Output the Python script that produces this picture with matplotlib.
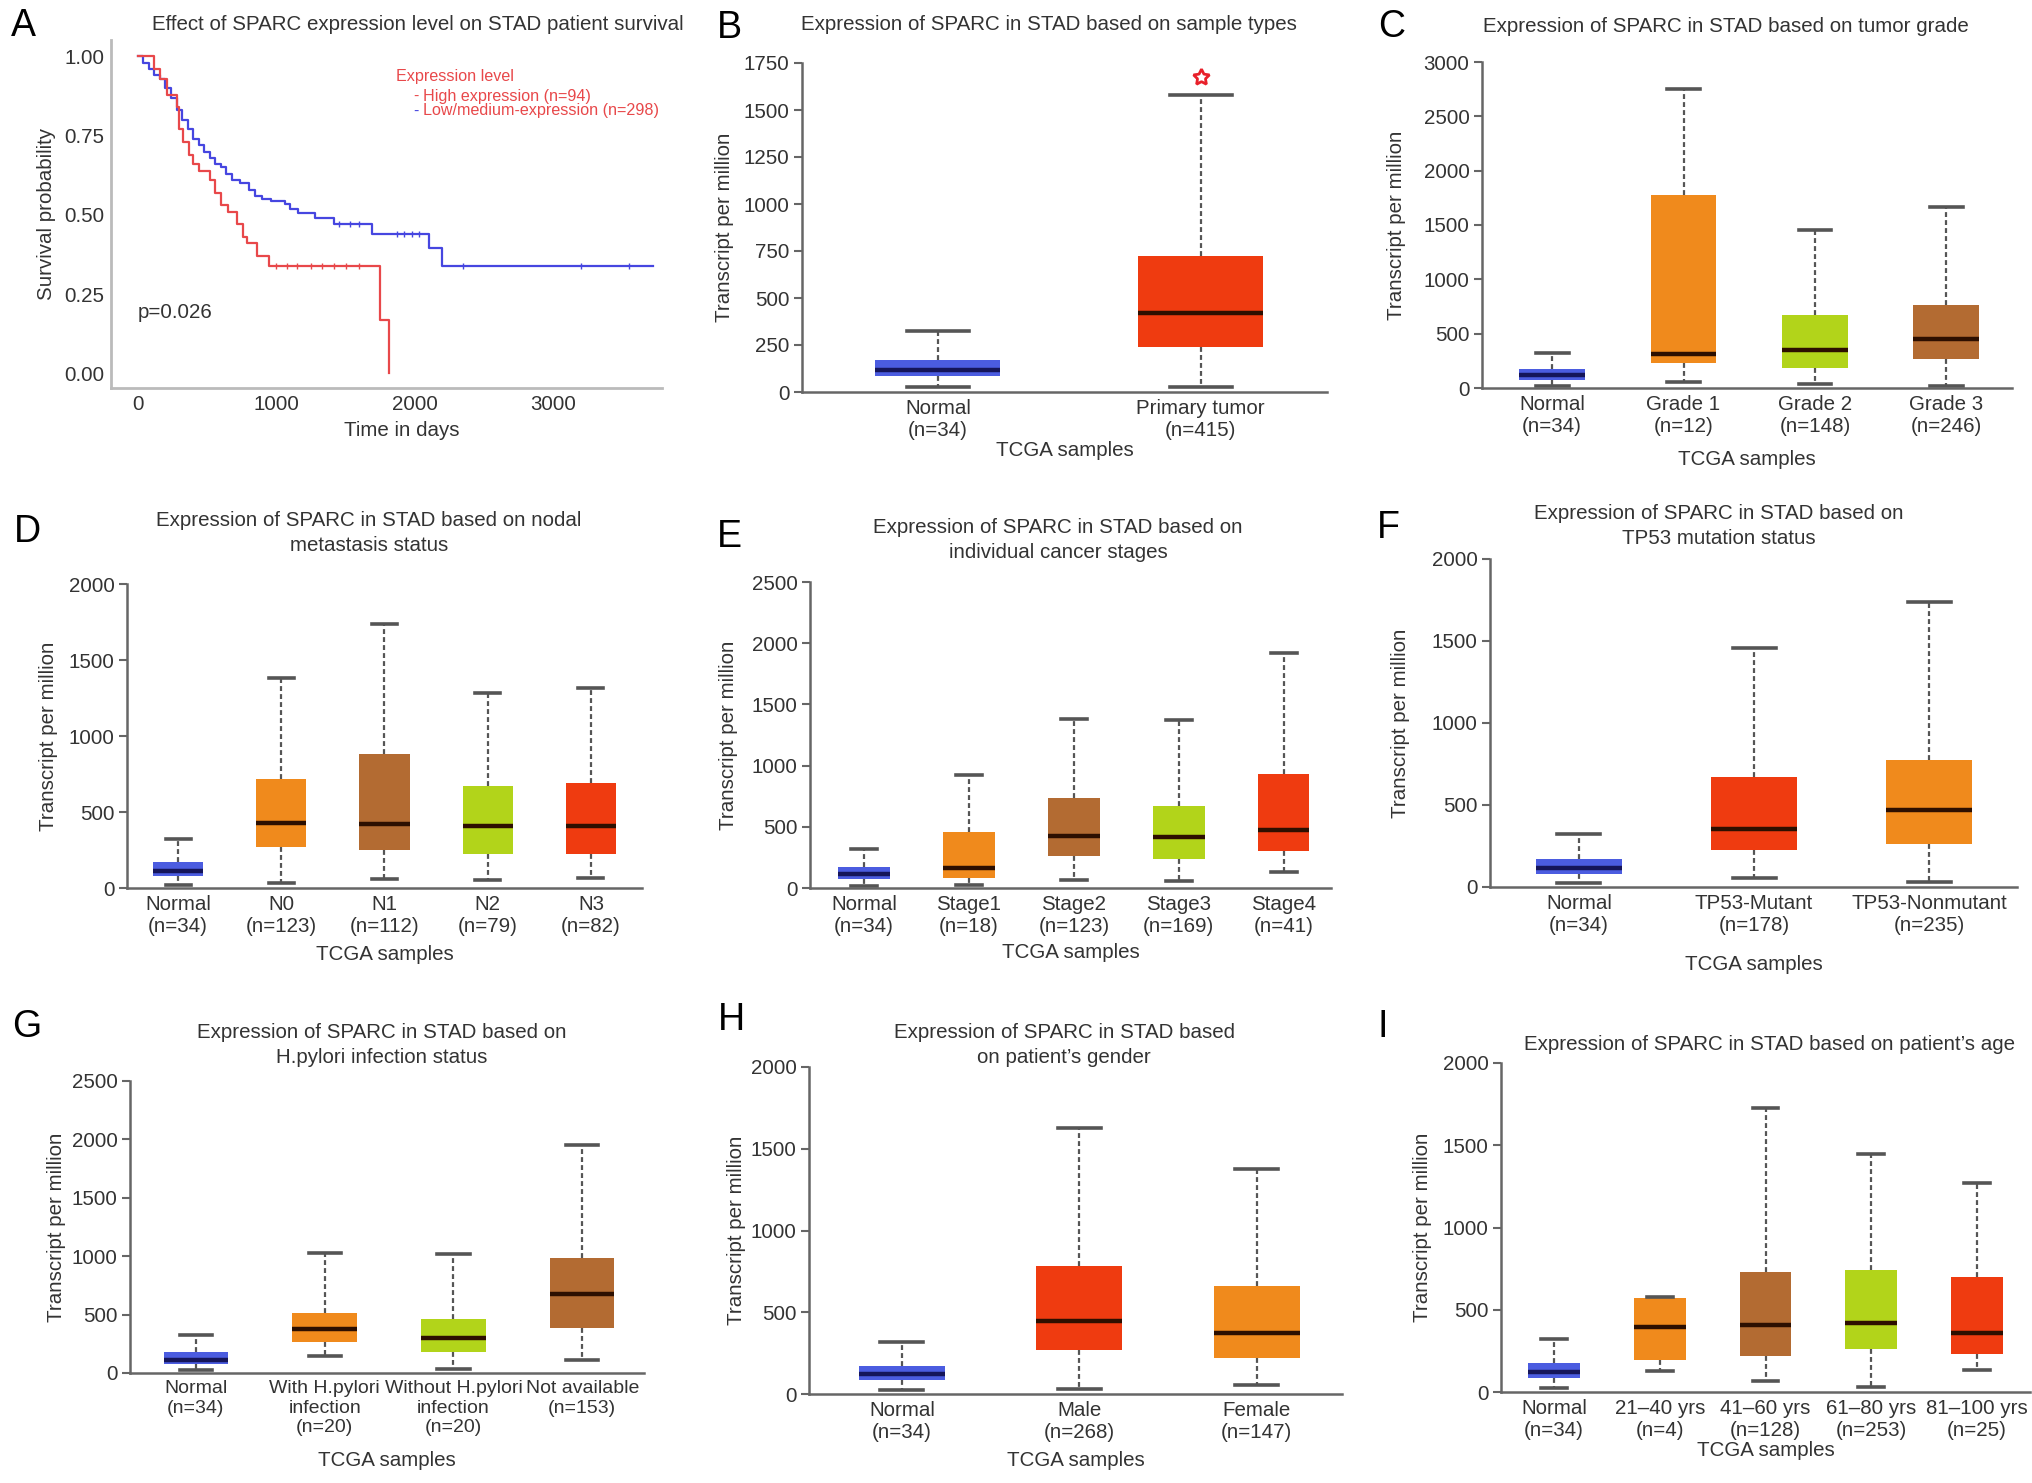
import matplotlib
matplotlib.use('Agg')
import matplotlib.pyplot as plt
import numpy as np

plt.rcParams['font.family'] = ['Liberation Sans', 'DejaVu Sans']

# ---------------- DATA ----------------
# Panel A: Kaplan-Meier steps (days, survival probability)
km_time_high = [0, 120, 160, 210, 280, 300, 330, 370, 400, 440, 520, 560, 600, 650, 720, 760, 790, 860, 950, 1750, 1815]
km_surv_high = [1.0, 0.96, 0.93, 0.88, 0.84, 0.77, 0.73, 0.69, 0.66, 0.64, 0.61, 0.57, 0.53, 0.51, 0.47, 0.43, 0.41, 0.37, 0.34, 0.17, 0.0]
km_censor_high = [1000, 1080, 1150, 1250, 1330, 1420, 1500, 1600]
km_time_low = [0, 40, 80, 120, 160, 200, 240, 280, 320, 360, 400, 440, 480, 520, 560, 600, 640, 680,
               740, 800, 850, 900, 960, 1060, 1100, 1160, 1280, 1420, 1690, 2100, 2200]
km_surv_low = [1.0, 0.98, 0.96, 0.94, 0.93, 0.90, 0.87, 0.83, 0.80, 0.77, 0.74, 0.72, 0.70, 0.68, 0.66, 0.65,
               0.63, 0.61, 0.60, 0.58, 0.56, 0.55, 0.545, 0.535, 0.52, 0.505, 0.49, 0.47, 0.44, 0.395, 0.34]
km_censor_low = [1450, 1530, 1600, 1870, 1920, 1980, 2030, 2350, 3200, 3550]
km_end_low = 3720
km_xticks = [0, 1000, 2000, 3000]
km_yticks = [0.0, 0.25, 0.5, 0.75, 1.0]

# Panel B
B_cats = ['Normal\n(n=34)', 'Primary tumor\n(n=415)']
B_lo = [27, 27]; B_q1 = [84, 240]; B_med = [115, 418]; B_q3 = [172, 723]; B_hi = [323, 1578]
B_star = 1674
# Panel C
C_cats = ['Normal\n(n=34)', 'Grade 1\n(n=12)', 'Grade 2\n(n=148)', 'Grade 3\n(n=246)']
C_lo = [15, 58, 40, 15]; C_q1 = [77, 230, 184, 270]; C_med = [116, 315, 352, 453]
C_q3 = [175, 1776, 674, 762]; C_hi = [321, 2756, 1454, 1669]
# Panel D
D_cats = ['Normal\n(n=34)', 'N0\n(n=123)', 'N1\n(n=112)', 'N2\n(n=79)', 'N3\n(n=82)']
D_lo = [22, 33, 59, 50, 66]; D_q1 = [81, 268, 252, 224, 224]; D_med = [114, 428, 421, 406, 406]
D_q3 = [173, 717, 882, 673, 691]; D_hi = [325, 1382, 1737, 1283, 1316]
# Panel E
E_cats = ['Normal\n(n=34)', 'Stage1\n(n=18)', 'Stage2\n(n=123)', 'Stage3\n(n=169)', 'Stage4\n(n=41)']
E_lo = [19, 27, 62, 54, 128]; E_q1 = [73, 82, 264, 236, 299]; E_med = [114, 163, 421, 413, 476]
E_q3 = [171, 454, 734, 671, 932]; E_hi = [318, 924, 1378, 1372, 1916]
# Panel F
F_cats = ['Normal\n(n=34)', 'TP53-Mutant\n(n=178)', 'TP53-Nonmutant\n(n=235)']
F_lo = [24, 55, 31]; F_q1 = [81, 224, 261]; F_med = [118, 352, 468]; F_q3 = [173, 672, 774]; F_hi = [322, 1456, 1735]
# Panel G
G_cats = ['Normal\n(n=34)', 'With H.pylori\ninfection\n(n=20)', 'Without H.pylori\ninfection\n(n=20)', 'Not available\n(n=153)']
G_lo = [28, 148, 34, 114]; G_q1 = [77, 265, 177, 384]; G_med = [114, 376, 299, 678]
G_q3 = [177, 513, 461, 982]; G_hi = [327, 1031, 1019, 1950]
# Panel H
H_cats = ['Normal\n(n=34)', 'Male\n(n=268)', 'Female\n(n=147)']
H_lo = [26, 33, 57]; H_q1 = [87, 271, 220]; H_med = [124, 444, 372]; H_q3 = [173, 783, 661]; H_hi = [321, 1624, 1375]
# Panel I
I_cats = ['Normal\n(n=34)', '21\u201340 yrs\n(n=4)', '41\u201360 yrs\n(n=128)', '61\u201380 yrs\n(n=253)', '81\u2013100 yrs\n(n=25)']
I_lo = [26, 126, 65, 30, 132]; I_q1 = [85, 193, 217, 263, 229]; I_med = [122, 395, 405, 421, 359]
I_q3 = [176, 571, 729, 744, 699]; I_hi = [320, 577, 1728, 1449, 1273]

# ---------------- STYLE ----------------
BLUE = '#4b5ce0'; RED = '#ef3b10'; ORANGE = '#f08a1c'; BROWN = '#b36b32'; GREEN = '#b2d41a'
TXT = '#333333'; AXC = '#666666'
FS = 14.8

W, H = 2032, 1483
fig = plt.figure(figsize=(W / 100, H / 100), dpi=100)


def rect(l, r, t, b):
    return [l / W, 1 - b / H, (r - l) / W, (b - t) / H]


def ftext(x, y, s, **kw):
    fig.text(x / W, 1 - y / H, s, **kw)


# ---------------- PANEL A ----------------
axA = fig.add_axes(rect(111, 662, 40, 388))
axA.set_xlim(-193, 3785)
axA.set_ylim(-0.046, 1.052)
KM_BLUE = '#4646e0'; KM_RED = '#e8484a'
tl = km_time_low + [km_end_low]
sl = km_surv_low + [km_surv_low[-1]]
axA.step(tl, sl, where='post', color=KM_BLUE, lw=1.6, zorder=3)
axA.step(km_time_high, km_surv_high, where='post', color=KM_RED, lw=1.6, zorder=3)
cl = np.array(km_censor_low)
axA.plot(cl, np.array(km_surv_low)[np.searchsorted(km_time_low, cl, side='right') - 1], '|',
         color=KM_BLUE, ms=4, mew=1)
ch = np.array(km_censor_high)
axA.plot(ch, np.array(km_surv_high)[np.searchsorted(km_time_high, ch, side='right') - 1], '|',
         color=KM_RED, ms=4, mew=1)
axA.set_xticks(km_xticks)
axA.set_yticks(km_yticks)
axA.set_yticklabels(['%.2f' % v for v in km_yticks])
for s in ['top', 'right']:
    axA.spines[s].set_visible(False)
for s in ['left', 'bottom']:
    axA.spines[s].set_color('#bbbbbb')
    axA.spines[s].set_linewidth(2)
axA.tick_params(length=0, labelsize=FS, labelcolor=TXT, pad=5)
ftext(47, 214, 'Survival probability', rotation=90, ha='center', va='center', fontsize=FS, color=TXT)
ftext(402, 430, 'Time in days', ha='center', va='center', fontsize=FS, color=TXT)
ftext(418, 25, 'Effect of SPARC expression level on STAD patient survival', ha='center', va='center',
      fontsize=FS, color=TXT)
ftext(138, 312, 'p=0.026', ha='left', va='center', fontsize=FS, color=TXT)
LEGC = '#e8484a'
ftext(396, 77, 'Expression level', ha='left', va='center', fontsize=11.6, color=LEGC)
ftext(413, 96, '-', ha='left', va='center', fontsize=11.6, color=KM_RED)
ftext(423, 96, 'High expression (n=94)', ha='left', va='center', fontsize=11.6, color=LEGC)
ftext(413, 111, '-', ha='left', va='center', fontsize=11.6, color=KM_BLUE)
ftext(423, 111, 'Low/medium-expression (n=298)', ha='left', va='center', fontsize=11.6, color=LEGC)


# ---------------- BOX PANELS ----------------
def box_panel(px, xlim, ymax, ystep, width, cats, lo, q1, med, q3, hi, colors,
              title, title_xy, xlabel_y, ylabel_x, xfs=FS):
    ax = fig.add_axes(rect(*px))
    stats = [dict(whislo=a, q1=b, med=c, q3=d, whishi=e, fliers=[])
             for a, b, c, d, e in zip(lo, q1, med, q3, hi)]
    pos = np.arange(1, len(cats) + 1)
    bp = ax.bxp(stats, positions=pos, widths=width, capwidths=width * 0.5, patch_artist=True,
                showfliers=False,
                boxprops=dict(edgecolor='none', linewidth=0),
                whiskerprops=dict(color='#555555', linestyle=(0, (2.2, 1.4)), linewidth=1.6),
                capprops=dict(color='#555555', linewidth=2.6),
                medianprops=dict(color='#2d0f00', linewidth=3.2))
    for patch, c, m in zip(bp['boxes'], colors, bp['medians']):
        patch.set_facecolor(c)
        if c == BLUE:
            m.set_color('#15155a')
    ax.set_xlim(*xlim)
    ax.set_ylim(0, ymax)
    ax.set_yticks(np.arange(0, ymax + 1, ystep))
    ax.set_xticks(pos)
    ax.set_xticklabels(cats)
    for s in ['top', 'right']:
        ax.spines[s].set_visible(False)
    for s in ['left', 'bottom']:
        ax.spines[s].set_color(AXC)
        ax.spines[s].set_linewidth(1.8)
    ax.spines['left'].set_bounds(0, ymax)
    ax.tick_params(axis='y', length=6, width=1.5, color=AXC, labelsize=FS, labelcolor=TXT, pad=3)
    ax.tick_params(axis='x', length=0, labelsize=xfs, labelcolor=TXT, pad=5)
    cx = (px[0] + px[1]) / 2
    ftext(title_xy[0], title_xy[1], title, ha='center', va='center', fontsize=FS, color=TXT,
          linespacing=1.4)
    ftext(cx, xlabel_y, 'TCGA samples', ha='center', va='center', fontsize=FS, color=TXT)
    ftext(ylabel_x, (px[2] + px[3]) / 2, 'Transcript per million', rotation=90, ha='center',
          va='center', fontsize=FS, color=TXT)
    return ax


axB = box_panel((802, 1327, 63, 392), (0.483, 2.48), 1750, 250, 0.475, B_cats,
                B_lo, B_q1, B_med, B_q3, B_hi, [BLUE, RED],
                'Expression of SPARC in STAD based on sample types', (1049, 25), 450, 724)
axB.plot([2], [B_star], marker=(5, 1, 0), ms=12, mfc='white', mec='#e8202a', mew=2.0, ls='none')

box_panel((1482, 2012, 62, 388), (0.466, 4.5), 3000, 500, 0.5, C_cats,
          C_lo, C_q1, C_med, C_q3, C_hi, [BLUE, ORANGE, GREEN, BROWN],
          'Expression of SPARC in STAD based on tumor grade', (1726, 26), 460, 1397)

box_panel((127, 642, 584, 888), (0.505, 5.495), 2000, 500, 0.485, D_cats,
          D_lo, D_q1, D_med, D_q3, D_hi, [BLUE, ORANGE, BROWN, GREEN, RED],
          'Expression of SPARC in STAD based on nodal\nmetastasis status', (369, 533), 955, 49)

box_panel((810, 1331, 582, 888), (0.486, 5.45), 2500, 500, 0.49, E_cats,
          E_lo, E_q1, E_med, E_q3, E_hi, [BLUE, ORANGE, BROWN, GREEN, RED],
          'Expression of SPARC in STAD based on\nindividual cancer stages', (1058, 540), 953, 729)

box_panel((1490, 2017, 559, 887), (0.493, 3.5), 2000, 500, 0.49, F_cats,
          F_lo, F_q1, F_med, F_q3, F_hi, [BLUE, RED, ORANGE],
          'Expression of SPARC in STAD based on\nTP53 mutation status', (1719, 526), 965, 1401)

box_panel((130, 644, 1081, 1373), (0.488, 4.48), 2500, 500, 0.5, G_cats,
          G_lo, G_q1, G_med, G_q3, G_hi, [BLUE, ORANGE, GREEN, BROWN],
          'Expression of SPARC in STAD based on\nH.pylori infection status', (382, 1045), 1460, 56,
          xfs=14)

box_panel((809, 1342, 1067, 1394), (0.476, 3.48), 2000, 500, 0.485, H_cats,
          H_lo, H_q1, H_med, H_q3, H_hi, [BLUE, RED, ORANGE],
          'Expression of SPARC in STAD based\non patient\u2019s gender', (1064, 1045), 1460, 736)

box_panel((1501, 2030, 1063, 1392), (0.5, 5.5), 2000, 500, 0.49, I_cats,
          I_lo, I_q1, I_med, I_q3, I_hi, [BLUE, ORANGE, BROWN, GREEN, RED],
          'Expression of SPARC in STAD based on patient\u2019s age', (1770, 1045), 1450, 1423)

# panel letters
for letter, (x, y) in zip('ABCDEFGHI', [(23, 26), (729, 28), (1392, 27), (27, 532), (729, 537),
                                         (1388, 528), (27, 1027), (731, 1020), (1383, 1027)]):
    ftext(x, y, letter, ha='center', va='center', fontsize=27, color='black')

fig.savefig('out.png', dpi=100, facecolor='white')
